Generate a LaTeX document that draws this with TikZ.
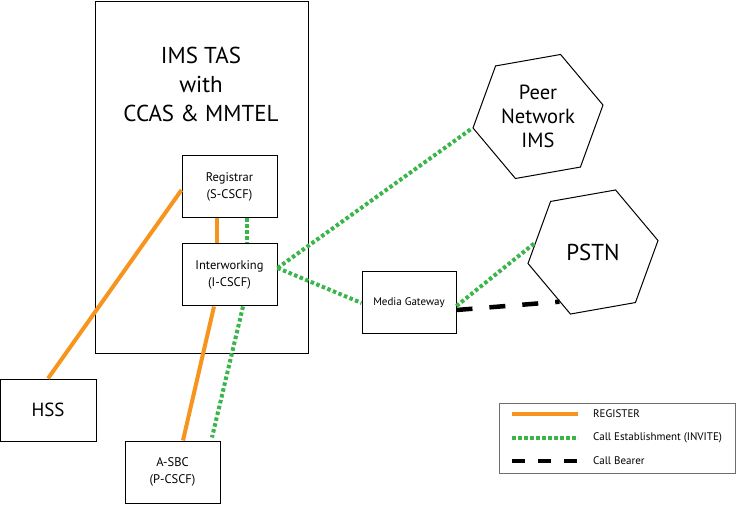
\documentclass[tikz,border=0pt]{standalone}
\usepackage{fontspec}
\setmainfont{PT Sans}
\usetikzlibrary{shapes.geometric}
\definecolor{regorange}{RGB}{247,148,30}
\definecolor{invgreen}{RGB}{57,181,74}
\definecolor{leggray}{RGB}{110,110,110}
\tikzset{
  box/.style={draw=black, line width=1pt, rectangle, inner sep=0pt, align=center},
  hexa/.style={draw=black, line width=1pt, regular polygon, regular polygon sides=6, shape border rotate=10, minimum size=132pt, inner sep=0pt, align=center},
  regline/.style={draw=regorange, line width=4pt},
  invline/.style={draw=invgreen, line width=4pt, dash pattern=on 3.5pt off 2.5pt},
  bearline/.style={draw=black, line width=4.5pt, dash pattern=on 16pt off 17pt},
  legtext/.style={anchor=west, inner sep=0pt, font=\fontsize{11}{13}\selectfont},
}
\begin{document}
\begin{tikzpicture}[x=1pt,y=-1pt]
\useasboundingbox (0,0) rectangle (737,505);
% IMS TAS container
\node[box, minimum width=213pt, minimum height=352pt, anchor=north west] (tas) at (95,1) {};
\node[align=center, inner sep=0pt, font=\fontsize{23}{29}\selectfont] (tastitle) at (201,84) {IMS TAS\\with\\CCAS \& MMTEL};
% inner nodes
\node[box, minimum width=95pt, minimum height=62pt, font=\fontsize{12.5}{17}\selectfont] (reg) at (229.5,187) {Registrar\\(S-CSCF)};
\node[box, minimum width=95pt, minimum height=62pt, font=\fontsize{12.5}{17}\selectfont] (iw) at (229.5,275) {Interworking\\(I-CSCF)};
\node[box, minimum width=94pt, minimum height=62pt, font=\fontsize{11}{13}\selectfont] (mg) at (409,303) {Media Gateway};
\node[box, minimum width=96pt, minimum height=62pt, font=\fontsize{19}{22}\selectfont] (hss) at (48,410) {HSS};
\node[box, minimum width=95pt, minimum height=62pt, font=\fontsize{12.5}{17}\selectfont] (sbc) at (172.5,472) {A-SBC\\(P-CSCF)};
\node[hexa, font=\fontsize{20.5}{24}\selectfont] (peer) at (538,116.5) {Peer\\Network\\IMS};
\node[hexa, font=\fontsize{23}{26}\selectfont] (pstn) at (593,252) {PSTN};
% connectors
\draw[regline] (hss.north) -- ([yshift=-3pt]reg.west);
\draw[regline] ([xshift=-12.5pt]reg.south) -- ([xshift=-12.5pt]iw.north);
\draw[invline] ([xshift=17.5pt]reg.south) -- ([xshift=17.5pt]iw.north);
\draw[regline] ([xshift=-15.5pt]iw.south) -- ([xshift=10.5pt]sbc.north);
\draw[invline] ([xshift=13.5pt]iw.south) -- ([xshift=39.5pt,yshift=3pt]sbc.north);
\draw[invline] ([yshift=7pt]iw.east) -- (peer.190);
\draw[invline] ([yshift=7pt]iw.east) -- (mg.west);
\draw[invline] ([yshift=-3pt]mg.east) -- (pstn.171);
\draw[bearline] ([yshift=-7pt]mg.east) -- (pstn.236);
% legend
\node[draw=leggray, line width=1.2pt, rectangle, minimum width=236pt, minimum height=70pt, anchor=north west] (legend) at (499,403) {};
\coordinate (l1a) at (512,414); \coordinate (l1b) at (578,414);
\coordinate (l2a) at (512,438); \coordinate (l2b) at (578,438);
\coordinate (l3a) at (512,461); \coordinate (l3b) at (578,461);
\draw[regline] (l1a) -- (l1b);
\draw[invline] (l2a) -- (l2b);
\draw[black, line width=4.5pt, dash pattern=on 13pt off 13pt] (l3a) -- (l3b);
\node[legtext] (t1) at (593,414) {REGISTER};
\node[legtext] (t2) at (593,438) {Call Establishment (INVITE)};
\node[legtext] (t3) at (593,461) {Call Bearer};
\end{tikzpicture}
\end{document}
